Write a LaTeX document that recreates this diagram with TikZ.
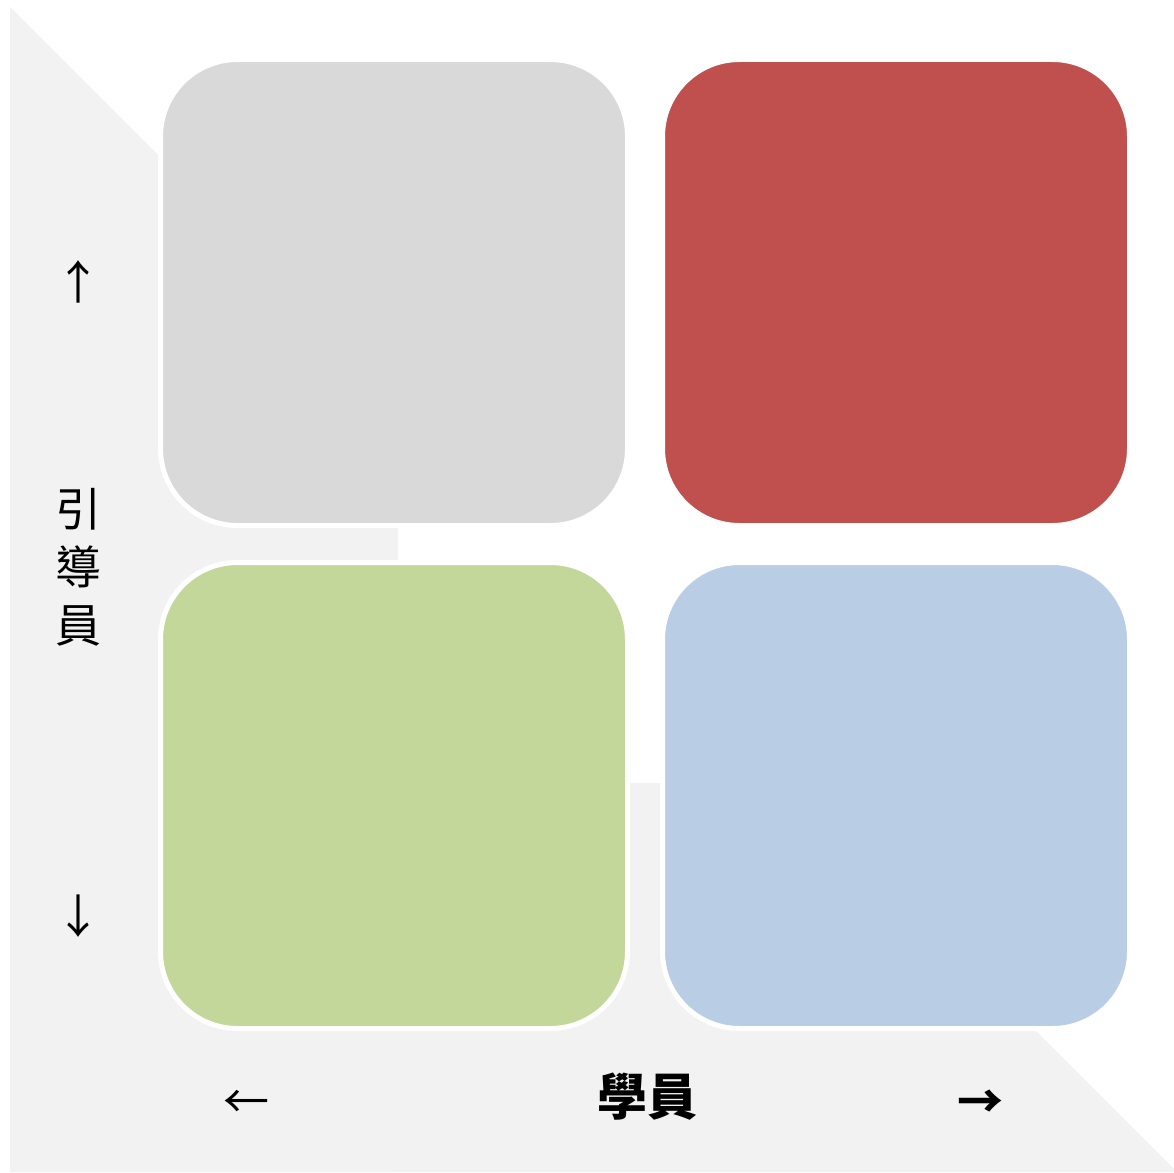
\documentclass[tikz,border=0pt]{standalone}
\usepackage{fontspec}
\newfontfamily\cjk{Noto Sans CJK TC}
\definecolor{bgband}{HTML}{F2F2F2}
\definecolor{qgray}{HTML}{D9D9D9}
\definecolor{qred}{HTML}{C0504D}
\definecolor{qgreen}{HTML}{C4D79B}
\definecolor{qblue}{HTML}{B9CDE5}
\tikzset{
  quad/.style={draw=white, line width=5pt, rounded corners=77pt,
    minimum width=467pt, minimum height=466pt, inner sep=0pt, outer sep=0pt},
  axislabel/.style={font=\cjk\fontsize{46}{58}\selectfont, inner sep=0pt, align=center},
  axisarrow/.style={font=\cjk\fontsize{46}{46}\selectfont, inner sep=0pt}
}
\begin{document}
\begin{tikzpicture}[x=1pt,y=-1pt]
\useasboundingbox (0,0) rectangle (1174,1172);
\fill[white] (0,0) rectangle (1174,1172);
% background bands
\fill[bgband] (10,7) -- (398,395) -- (398,1172) -- (10,1172) -- cycle;
\fill[bgband] (10,783) -- (788,783) -- (1177,1172) -- (10,1172) -- cycle;
% quadrants
\node[quad, fill=qgray]  (tl) at (394,292.5) {};
\node[quad, fill=qred]   (tr) at (896,292.5) {};
\node[quad, fill=qgreen] (bl) at (394,795.5) {};
\node[quad, fill=qblue]  (br) at (896,795.5) {};
% axis labels
\node[axisarrow] (up) at (78,282) {↑};
\node[axislabel] (guide) at (78,567) {引\\導\\員};
\node[axisarrow] (down) at (78,916) {↓};
\node[axisarrow] (left) at (246,1104) {←};
\node[axislabel, font=\cjk\bfseries\fontsize{50}{58}\selectfont] (learner) at (647,1097) {學員};
\node[axisarrow, font=\cjk\bfseries\fontsize{46}{46}\selectfont] (right) at (980,1104) {→};
\end{tikzpicture}
\end{document}
